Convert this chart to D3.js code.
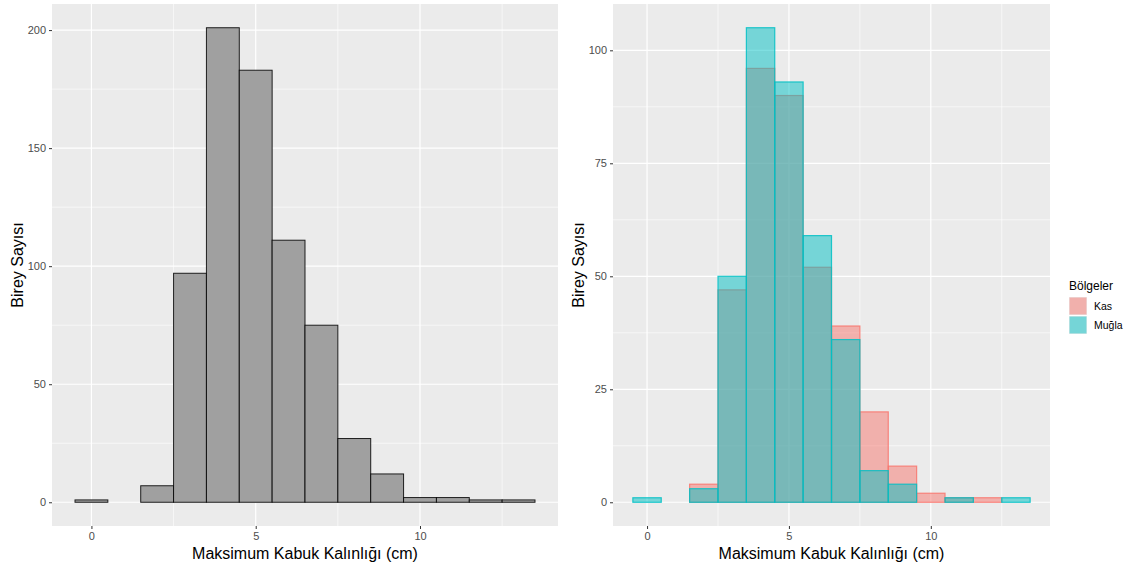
<!DOCTYPE html>
<html>
<head>
<meta charset="utf-8">
<script src="https://cdn.jsdelivr.net/npm/d3@7"></script>
<style>
  body { margin: 0; background: #fff; }
  svg { display: block; font-family: "Liberation Sans", Arial, sans-serif; }
</style>
</head>
<body>
<svg id="chart" width="1127" height="569"></svg>
<script>
// Histogram bins: width 1, centred on each whole centimetre
const binCenters = [0, 1, 2, 3, 4, 5, 6, 7, 8, 9, 10, 11, 12, 13];
const totalCounts = [1, 0, 7, 97, 201, 183, 111, 75, 27, 12, 2, 2, 1, 1];
const regions = ["Kas", "Muğla"];
const kasCounts = [0, 0, 4, 47, 96, 90, 52, 39, 20, 8, 2, 1, 1, 0];
const muglaCounts = [1, 0, 3, 50, 105, 93, 59, 36, 7, 4, 0, 1, 0, 1];
const xTicks = [0, 5, 10];
const yTicksLeft = [0, 50, 100, 150, 200];
const yTicksRight = [0, 25, 50, 75, 100];
const xTitle = "Maksimum Kabuk Kalınlığı (cm)";
const yTitle = "Birey Sayısı";
const legendTitle = "Bölgeler";

const regionColors = { "Kas": "#F8766D", "Muğla": "#00BFC4" };

const svg = d3.select("#chart");

function drawPanel(opts) {
  const { x0, x1, y0, y1, yMax, yTicks, yMinor, series } = opts;
  const lo = -0.5, hi = 13.5, xe = (hi - lo) * 0.05;
  const x = d3.scaleLinear().domain([lo - xe, hi + xe]).range([x0, x1]);
  const ye = yMax * 0.05;
  const y = d3.scaleLinear().domain([-ye, yMax + ye]).range([y1, y0]);

  const g = svg.append("g");
  g.append("rect").attr("x", x0).attr("y", y0)
    .attr("width", x1 - x0).attr("height", y1 - y0).attr("fill", "#EBEBEB");

  // minor grid
  const xMinor = [2.5, 7.5, 12.5];
  g.selectAll(null).data(xMinor).enter().append("line")
    .attr("x1", d => x(d)).attr("x2", d => x(d)).attr("y1", y0).attr("y2", y1)
    .attr("stroke", "#fff").attr("stroke-width", 0.6);
  g.selectAll(null).data(yMinor).enter().append("line")
    .attr("y1", d => y(d)).attr("y2", d => y(d)).attr("x1", x0).attr("x2", x1)
    .attr("stroke", "#fff").attr("stroke-width", 0.6);
  // major grid
  g.selectAll(null).data(xTicks).enter().append("line")
    .attr("x1", d => x(d)).attr("x2", d => x(d)).attr("y1", y0).attr("y2", y1)
    .attr("stroke", "#fff").attr("stroke-width", 1.2);
  g.selectAll(null).data(yTicks).enter().append("line")
    .attr("y1", d => y(d)).attr("y2", d => y(d)).attr("x1", x0).attr("x2", x1)
    .attr("stroke", "#fff").attr("stroke-width", 1.2);

  // bars
  series.forEach(s => {
    g.selectAll(null).data(binCenters.map((c, i) => ({ c, v: s.values[i] })))
      .enter().append("rect")
      .attr("x", d => x(d.c - 0.5))
      .attr("y", d => y(d.v))
      .attr("width", d => x(d.c + 0.5) - x(d.c - 0.5))
      .attr("height", d => y(0) - y(d.v))
      .attr("fill", s.fill).attr("fill-opacity", s.fillOpacity)
      .attr("stroke", s.stroke).attr("stroke-opacity", s.strokeOpacity)
      .attr("stroke-width", s.strokeWidth);
  });

  // axes
  const xAxis = d3.axisBottom(x).tickValues(xTicks).tickSize(3).tickPadding(3);
  const ax = g.append("g").attr("transform", `translate(0,${y1})`).call(xAxis);
  const yAxis = d3.axisLeft(y).tickValues(yTicks).tickSize(3).tickPadding(3);
  const ay = g.append("g").attr("transform", `translate(${x0},0)`).call(yAxis);
  [ax, ay].forEach(a => {
    a.select(".domain").remove();
    a.selectAll(".tick line").attr("stroke", "#333").attr("stroke-width", 1);
    a.selectAll(".tick text").attr("fill", "#4D4D4D").attr("font-size", 11)
      .attr("font-family", "Liberation Sans, Arial, sans-serif");
  });

  // titles
  g.append("text").attr("x", (x0 + x1) / 2).attr("y", 559)
    .attr("text-anchor", "middle").attr("font-size", 16).attr("fill", "#000")
    .text(xTitle);
  g.append("text")
    .attr("transform", `translate(${opts.yTitleX},${(y0 + y1) / 2}) rotate(-90)`)
    .attr("text-anchor", "middle").attr("font-size", 16).attr("fill", "#000")
    .text(yTitle);
}

// Left: all individuals
drawPanel({
  x0: 52, x1: 558, y0: 4, y1: 526,
  yMax: d3.max(totalCounts), yTicks: yTicksLeft, yMinor: [25, 75, 125, 175],
  yTitleX: 23,
  series: [{ values: totalCounts, fill: "#A0A0A0", fillOpacity: 1,
             stroke: "#000", strokeOpacity: 0.85, strokeWidth: 1 }]
});

// Right: by region, overlaid with transparency
const regionValues = { "Kas": kasCounts, "Muğla": muglaCounts };
drawPanel({
  x0: 613, x1: 1050, y0: 4, y1: 526,
  yMax: d3.max([...kasCounts, ...muglaCounts]), yTicks: yTicksRight,
  yMinor: [12.5, 37.5, 62.5, 87.5],
  yTitleX: 584,
  series: regions.map(r => ({ values: regionValues[r], fill: regionColors[r],
    fillOpacity: 0.5, stroke: regionColors[r], strokeOpacity: 0.85, strokeWidth: 1.2 }))
});

// Legend
const lg = svg.append("g").attr("transform", "translate(1069,0)");
lg.append("text").attr("x", 0).attr("y", 290).attr("font-size", 12)
  .attr("fill", "#000").text(legendTitle);
regions.forEach((r, i) => {
  const yy = 297 + i * 19;
  lg.append("rect").attr("x", 0).attr("y", yy).attr("width", 18).attr("height", 18)
    .attr("fill", "#EBEBEB");
  lg.append("rect").attr("x", 0.5).attr("y", yy + 0.5).attr("width", 17).attr("height", 17)
    .attr("fill", regionColors[r]).attr("fill-opacity", 0.5)
    .attr("stroke", "none");
  lg.append("text").attr("x", 25).attr("y", yy + 13).attr("font-size", 10.5)
    .attr("fill", "#000").text(r);
});
</script>
</body>
</html>
